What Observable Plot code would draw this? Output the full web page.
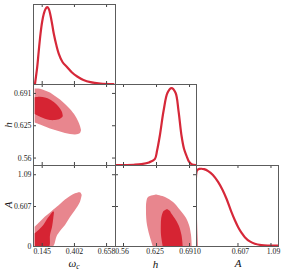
<!DOCTYPE html>
<html><head><meta charset="utf-8">
<script src="https://cdn.jsdelivr.net/npm/d3@7"></script>
<script src="https://cdn.jsdelivr.net/npm/@observablehq/plot@0.6"></script>
<style>
body{margin:0;background:#fff;}
#chart{position:relative;width:282px;height:270px;overflow:hidden;background:#fff;}
.lab{position:absolute;font-family:"Liberation Serif","DejaVu Serif",serif;font-style:italic;font-size:11px;color:#111;line-height:1;white-space:nowrap;transform:translate(-50%,-50%);}
.lab sub{font-size:7.5px;vertical-align:-2px;}
.rot{transform:translate(-50%,-50%) rotate(-90deg);}
</style></head>
<body><div id="chart"></div>
<script>
// ---------- tick values / labels ----------
const omegaTicks = [0.145, 0.402, 0.658];
const omegaTickLabels = ["0.145", "0.402", "0.658"];
const hTicks = [0.5595, 0.625, 0.6905];
const hTickLabels = ["0.56", "0.625", "0.691"];
const aTicks = [0, 0.607, 1.09];
const aTickLabels = ["0", "0.607", "1.09"];

// ---------- 1D marginals (normalised to peak 1) ----------
const omegaGrid = [0.087, 0.0956, 0.1052, 0.1179, 0.1315, 0.145, 0.1578, 0.1713, 0.1849, 0.1976, 0.2112, 0.2247, 0.2375, 0.2566, 0.2773, 0.3068, 0.3442, 0.3825, 0.424, 0.474, 0.53, 0.6096, 0.713];
const omegaDens = [0.0, 0.103, 0.224, 0.44, 0.656, 0.815, 0.915, 0.977, 1.0, 0.977, 0.893, 0.776, 0.656, 0.517, 0.397, 0.291, 0.224, 0.155, 0.103, 0.058, 0.03, 0.013, 0.006];

const hGrid = [0.5436, 0.58, 0.5952, 0.61, 0.6216, 0.626, 0.6315, 0.639, 0.6468, 0.6547, 0.6627, 0.6686, 0.6746, 0.6795, 0.6845, 0.6895, 0.6944, 0.7043];
const hDens = [0.004, 0.01, 0.018, 0.04, 0.083, 0.19, 0.384, 0.707, 0.94, 1.0, 0.94, 0.707, 0.384, 0.216, 0.125, 0.05, 0.018, 0.005];

const aGrid = [0, 0, 0.0146, 0.044, 0.073, 0.11, 0.171, 0.24, 0.318, 0.38, 0.439, 0.512, 0.56, 0.61, 0.66, 0.707, 0.78, 0.853, 0.95, 1.049, 1.195];
const aDens = [0, 0.96, 0.985, 0.998, 1.0, 0.995, 0.97, 0.92, 0.828, 0.73, 0.614, 0.441, 0.34, 0.248, 0.175, 0.12, 0.065, 0.035, 0.018, 0.012, 0.01];

// ---------- 2D contours: omega_c vs h (68% inner, 95% outer) ----------
const whOuterW  = [0.089, 0.1315, 0.1713, 0.2112, 0.251, 0.2908, 0.3307, 0.3705, 0.4104, 0.4343, 0.4502, 0.4582];
const whOuterHi = [0.6995, 0.6991, 0.6954, 0.6914, 0.6843, 0.6772, 0.6681, 0.6579, 0.6448, 0.6336, 0.6235, 0.6154];
const whOuterLo = [0.6306, 0.6265, 0.6225, 0.6184, 0.6154, 0.6123, 0.6093, 0.6073, 0.6062, 0.6073, 0.6093, 0.6154];
const whInnerW  = [0.089, 0.1315, 0.1713, 0.2112, 0.251, 0.2749, 0.2908, 0.3068, 0.3131];
const whInnerHi = [0.6816, 0.6826, 0.6812, 0.6772, 0.6701, 0.664, 0.6589, 0.6519, 0.6437];
const whInnerLo = [0.6478, 0.6423, 0.6381, 0.6356, 0.6356, 0.6366, 0.6381, 0.6411, 0.6437];

// ---------- 2D contours: omega_c vs A ----------
const waOuterW  = [0.089, 0.1315, 0.1713, 0.2112, 0.2375, 0.2645, 0.2908, 0.3307, 0.3705, 0.4104, 0.4502, 0.4637];
const waOuterHi = [0.293, 0.372, 0.448, 0.509, 0.554, 0.597, 0.638, 0.706, 0.759, 0.8, 0.815, 0.774];
const waOuterLo = [0, 0, 0, 0, 0, 0.152, 0.228, 0.319, 0.44, 0.547, 0.673, 0.774];
const waInnerW  = [0.089, 0.1315, 0.1578, 0.1873, 0.2056, 0.2112, 0.2271, 0.2375, 0.243];
const waInnerHi = [0.193, 0.266, 0.319, 0.41, 0.456, 0.471, 0.509, 0.528, 0.509];
const waInnerLo = [0, 0, 0, 0, 0, 0.167, 0.289, 0.425, 0.509];

// ---------- 2D contours: h vs A ----------
const haOuterA  = [0, 0.167, 0.319, 0.425, 0.547, 0.668, 0.744, 0.782];
const haOuterL  = [0.6184, 0.6117, 0.6071, 0.6055, 0.6051, 0.6057, 0.6091, 0.625];
const haOuterR  = [0.6958, 0.6944, 0.6904, 0.6845, 0.6726, 0.6587, 0.6428, 0.625];
const haInnerA  = [0, 0.167, 0.319, 0.425, 0.501, 0.531, 0.562];
const haInnerL  = [0.6382, 0.6349, 0.6345, 0.6353, 0.6379, 0.6398, 0.6468];
const haInnerR  = [0.6779, 0.6755, 0.6696, 0.6617, 0.6547, 0.6527, 0.6468];

// ---------- styling ----------
const lineColor = "#d62839", innerFill = "#d62433", outerFill = "#e8868e";
const frameColor = "#5c5c5c", tickColor = "#444", textColor = "#222";
const omegaDomain = [0.0757, 0.7291];
const hXDomain = [0.5436, 0.7043];
const hYDomain = [0.5444, 0.7086];
const aYDomain = [0, 1.23];
const aXDomain = [0, 1.2];
const colX = [33, 115, 196], colW = [82, 81, 82];
const rowY = [4, 84, 165], rowH = [80, 81, 81];

const zip2 = (xs, ys) => xs.map((x, i) => ({x, y: ys[i]}));
const zip3 = (a, b, c) => a.map((v, i) => ({v, lo: b[i], hi: c[i]}));
const fmt = (ticks, labels) => d => labels[ticks.indexOf(d)];

const chart = document.getElementById("chart");

function panel(r, c, xDomain, yDomain, marks, xt, yt, opts = {}) {
  const w = colW[c], h = rowH[r];
  const all = [...marks];
  if (xt) {
    all.push(Plot.tickX(xt, {x: d => d, insetTop: h - 3, stroke: tickColor}));
    all.push(Plot.tickX(xt, {x: d => d, insetBottom: h - 3, stroke: tickColor}));
  }
  if (yt) {
    all.push(Plot.tickY(yt, {y: d => d, insetRight: w - 3, stroke: tickColor}));
    all.push(Plot.tickY(yt, {y: d => d, insetLeft: w - 3, stroke: tickColor}));
  }
  if (opts.xLabels) all.push(Plot.axisX(xt, {anchor: "bottom", tickSize: 0, tickPadding: 1.5, dx: opts.xdx || 0, tickFormat: opts.xLabels, label: null, fill: textColor}));
  if (opts.yLabels) all.push(Plot.axisY(yt, {anchor: "left", tickSize: 0, tickPadding: 2, tickFormat: opts.yLabels, label: null, fill: textColor}));
  all.push(Plot.frame({stroke: frameColor}));
  const svg = Plot.plot({
    width: w, height: h,
    marginTop: 0, marginRight: 0, marginBottom: 0, marginLeft: 0,
    x: {domain: xDomain, axis: null},
    y: {domain: yDomain, axis: null},
    style: {position: "absolute", left: colX[c] + "px", top: rowY[r] + "px",
            overflow: "visible", background: "transparent",
            fontFamily: "'Liberation Serif', 'DejaVu Serif', serif", fontSize: "7.8px", color: textColor},
    marks: all
  });
  chart.appendChild(svg);
}

const line1D = (xs, ys) => Plot.line(zip2(xs, ys), {x: "x", y: "y", stroke: lineColor, strokeWidth: 2.2, curve: "catmull-rom", clip: true});

// diagonal
panel(0, 0, omegaDomain, [0, 1.035], [line1D(omegaGrid, omegaDens)], omegaTicks, null);
panel(1, 1, hXDomain, [0, 1.047], [line1D(hGrid, hDens)], hTicks, null);
panel(2, 2, aXDomain, [0, 1.042], [line1D(aGrid, aDens)], aTicks, null, {xLabels: fmt(aTicks, aTickLabels), xdx: 2.5});

// omega_c vs h
panel(1, 0, omegaDomain, hYDomain, [
  Plot.areaY(zip3(whOuterW, whOuterLo, whOuterHi), {x: "v", y1: "lo", y2: "hi", fill: outerFill, curve: "catmull-rom", clip: true}),
  Plot.areaY(zip3(whInnerW, whInnerLo, whInnerHi), {x: "v", y1: "lo", y2: "hi", fill: innerFill, curve: "catmull-rom", clip: true})
], omegaTicks, hTicks, {yLabels: fmt(hTicks, hTickLabels)});

// omega_c vs A
panel(2, 0, omegaDomain, aYDomain, [
  Plot.areaY(zip3(waOuterW, waOuterLo, waOuterHi), {x: "v", y1: "lo", y2: "hi", fill: outerFill, curve: "catmull-rom", clip: true}),
  Plot.areaY(zip3(waInnerW, waInnerLo, waInnerHi), {x: "v", y1: "lo", y2: "hi", fill: innerFill, curve: "catmull-rom", clip: true})
], omegaTicks, aTicks, {xLabels: fmt(omegaTicks, omegaTickLabels), yLabels: fmt(aTicks, aTickLabels)});

// h vs A
panel(2, 1, hXDomain, aYDomain, [
  Plot.areaX(zip3(haOuterA, haOuterL, haOuterR), {y: "v", x1: "lo", x2: "hi", fill: outerFill, curve: "catmull-rom", clip: true}),
  Plot.areaX(zip3(haInnerA, haInnerL, haInnerR), {y: "v", x1: "lo", x2: "hi", fill: innerFill, curve: "catmull-rom", clip: true})
], hTicks, aTicks, {xLabels: fmt(hTicks, hTickLabels), xdx: -1.5});

// axis titles
function label(html, x, y, rot) {
  const d = document.createElement("div");
  d.className = "lab" + (rot ? " rot" : "");
  d.innerHTML = html;
  d.style.left = x + "px"; d.style.top = y + "px";
  chart.appendChild(d);
}
label("ω<sub>c</sub>", 74, 264);
label("h", 155.5, 264);
label("A", 238, 263);
label("h", 8, 125, true);
label("A", 8, 205, true);
</script>
</body></html>
